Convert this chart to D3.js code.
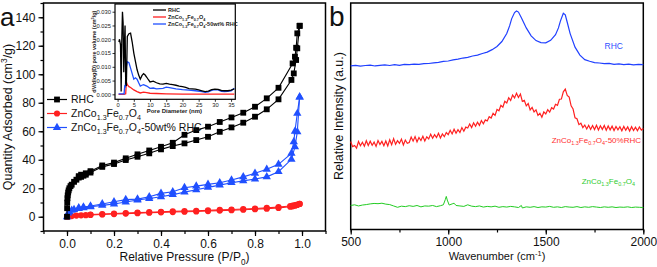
<!DOCTYPE html>
<html><head><meta charset="utf-8">
<script src="https://cdn.jsdelivr.net/npm/d3@7"></script>
<style>body{margin:0;background:#fff}svg{display:block;font-family:"Liberation Sans",Arial,sans-serif}</style>
</head><body><svg id="c" width="657" height="267"></svg>
<script>
// ---------- Panel a: N2 isotherms ----------
const pRHCads = [0,0.0005,0.001,0.002,0.003,0.005,0.007,0.01,0.015,0.02,0.03,0.04,0.05,0.06,0.07,0.08,0.1,0.15,0.2,0.25,0.3,0.35,0.4,0.45,0.5,0.55,0.6,0.65,0.7,0.75,0.8,0.85,0.9,0.955,0.965,0.975,0.98,0.99];
const qRHCads = [0,6,10,13,15,17,18.5,20,21.5,22.5,24.5,26,27.5,28,28.8,29.5,31,35,37,39.8,42.1,44.5,47.3,49.6,51.5,53.8,56.1,59.6,62.7,66,70.2,75.4,82.4,96,100.6,110,118.2,134];
const pRHCdes = [0.99,0.98,0.975,0.97,0.96,0.9,0.85,0.8,0.75,0.7,0.65,0.6,0.55,0.5,0.45,0.4,0.35,0.3,0.25,0.2,0.15,0.1,0.08,0.06,0.05];
const qRHCdes = [134,128.7,118.6,112.3,107.6,90.5,83.1,77.2,73,69.7,66.5,63.2,60.8,57.5,51.9,49.1,46.5,43.8,41,38,36,32,30.5,29.5,28.5];
const pZCFads = [0,0.01,0.02,0.04,0.06,0.08,0.1,0.15,0.2,0.25,0.3,0.35,0.4,0.45,0.5,0.55,0.6,0.65,0.7,0.75,0.8,0.85,0.9,0.95,0.96,0.97,0.98,0.99];
const qZCFads = [0,0.3,0.5,0.8,1.0,1.1,1.3,1.6,1.9,2.2,2.5,2.8,3.1,3.3,3.5,3.7,4.0,4.3,4.6,4.9,5.3,5.7,6.2,7.0,7.3,7.7,8.3,9.0];
const pZCFdes = [0.99,0.98,0.97,0.96,0.95,0.9,0.85,0.8,0.75,0.7,0.65,0.6,0.55,0.5,0.45,0.4,0.35,0.3,0.25,0.2,0.15,0.1];
const qZCFdes = [9.0,8.6,8.1,7.8,7.5,6.8,6.2,5.8,5.4,5.1,4.8,4.5,4.2,4.0,3.8,3.5,3.2,2.9,2.6,2.3,1.9,1.6];
const pMixads = [0,0.005,0.01,0.02,0.03,0.05,0.07,0.1,0.15,0.2,0.25,0.3,0.35,0.4,0.45,0.5,0.55,0.6,0.65,0.7,0.75,0.8,0.85,0.9,0.955,0.97,0.98,0.99];
const qMixads = [0,2.5,3.5,4.5,5.0,5.7,6.2,7.0,8.0,8.9,10.3,11.7,12.8,14.0,15.5,17.3,18.9,20.6,22.2,23.9,25.2,26.5,28.0,31.6,40.3,49,59.6,84];
const pMixdes = [0.99,0.98,0.97,0.965,0.955,0.9,0.85,0.8,0.75,0.7,0.65,0.6,0.55,0.5,0.45,0.4,0.35,0.3,0.25,0.2,0.15,0.1,0.07,0.05];
const qMixdes = [84,72.5,60,52.6,44.5,36.8,33.3,30.5,28,25.8,23.9,22.7,21.5,20.4,17.5,16.4,14,12.4,12,10.5,9,7.5,6.8,6.2];
const xTicksA = [0,0.2,0.4,0.6,0.8,1.0];
const yTicksA = [0,20,40,60,80,100,120,140];

// ---------- Inset: pore size distribution ----------
const dRHC = [0.4,0.6,0.9,1.1,1.3,1.5,1.7,1.9,2.1,2.3,2.5,2.7,3.0,3.5,4.0,4.5,5.0,5.5,6.0,6.5,7.0,7.5,8.0,8.5,9.0,9.5,10,11,12,13,14,15,16,17,18,19,20,21,22,23,24,25,26,27,28,29,30,31,32,33,34,35,36];
const vRHC = [0.019,0.020,0.018,0.001,0.020,0.030,0.026,0.008,0.018,0.025,0.004,0.003,0.021,0.022,0.0222,0.019,0.015,0.012,0.009,0.007,0.0055,0.0068,0.0075,0.007,0.0062,0.0053,0.0045,0.0048,0.0042,0.0038,0.0037,0.0040,0.0037,0.0035,0.0033,0.0030,0.0028,0.0025,0.0021,0.0020,0.0019,0.0016,0.0013,0.0010,0.0012,0.0017,0.0019,0.0018,0.0014,0.0013,0.0013,0.0015,0.0020];
const dZCF = [0.3,1,2,2.5,2.7,3.0,3.5,4.0,5.0,6.0,7.0,8.0,9.0,10,12,15,20,25,30,36];
const vZCF = [0,0,0,0.0002,0.0045,0.0035,0.0028,0.0025,0.0016,0.001,0.0005,0.0008,0.0006,0.0004,0.0003,0.0002,0.0001,0.0001,0.0001,0.0001];
const dMix = [0.3,1,2,2.2,2.4,2.6,3.0,3.5,4.0,4.5,5.0,5.5,6.0,6.5,7.0,7.5,8,9,10,11,12,13,14,15,16,18,20,22,24,26,27,28,29,30,31,32,33,34,35,36];
const vMix = [0.0002,0.0002,0.0002,0.003,0.0028,0.0095,0.0118,0.0115,0.0095,0.0075,0.0055,0.006,0.0055,0.0042,0.003,0.0033,0.0035,0.003,0.0022,0.0023,0.002,0.0021,0.0022,0.0026,0.0024,0.002,0.0017,0.0015,0.0013,0.001,0.0007,0.0009,0.0014,0.0017,0.0016,0.0011,0.001,0.0011,0.0013,0.0022];
const xTicksIn = [0,5,10,15,20,25,30,35];
const yTicksIn = [0,0.005,0.010,0.015,0.020,0.025,0.030];

// ---------- Panel b: Raman ----------
const wBlue = [500,525,550,575,600,625,650,675,700,725,750,775,800,825,850,875,900,925,950,975,1000,1025,1050,1075,1100,1125,1150,1175,1200,1225,1250,1275,1300,1315,1325,1340,1350,1360,1375,1400,1425,1450,1475,1500,1525,1550,1565,1575,1590,1600,1610,1625,1650,1675,1700,1725,1750,1775,1800,1825,1850,1875,1900,1925,1950,1975,2000];
const iBlue = [72.2,72.5,72.1,72.4,72.6,72.2,72.5,72.7,72.4,72.8,72.5,72.9,72.8,73.0,72.9,73.2,73.3,73.6,73.8,74.2,74.4,74.9,75.2,75.7,76.0,76.6,77.0,77.7,78.3,79.4,80.8,83.0,86.5,90.0,93.0,95.8,96.5,96.0,93.5,89.0,85.5,83.4,82.5,82.4,83.5,86.0,89.0,92.0,95.5,94.8,91.5,86.5,80.5,77.0,75.0,74.3,73.7,73.5,73.2,73.3,72.9,73.1,72.8,73.0,72.7,72.9,72.8];
const wRed = [500,510,520,530,540,550,560,570,580,590,600,610,620,630,640,650,660,670,680,690,700,710,720,730,740,750,760,770,780,790,800,810,820,830,840,850,860,870,880,890,900,910,920,930,940,950,960,970,980,990,1000,1010,1020,1030,1040,1050,1060,1070,1080,1090,1100,1110,1120,1130,1140,1150,1160,1170,1180,1190,1200,1210,1220,1230,1240,1250,1260,1270,1280,1290,1300,1310,1320,1330,1340,1350,1360,1370,1380,1390,1400,1410,1420,1430,1440,1450,1460,1470,1480,1490,1500,1510,1520,1530,1540,1550,1560,1570,1580,1590,1600,1610,1620,1630,1640,1650,1660,1670,1680,1690,1700,1710,1720,1730,1740,1750,1760,1770,1780,1790,1800,1810,1820,1830,1840,1850,1860,1870,1880,1890,1900,1910,1920,1930,1940,1950,1960,1970,1980,1990,2000];
const iRed = [38.8,36.6,37.1,35.9,38.9,37.0,38.5,36.8,39.2,37.1,
  39.0,37.2,38.6,36.7,39.3,37.5,38.9,37.0,39.1,36.9,
  39.6,37.4,40.1,37.6,39.2,38.0,39.9,37.3,39.5,38.1,
  38.4,40.8,39.0,41.0,38.7,40.6,39.3,41.2,39.1,40.9,
  40.0,42.1,40.3,41.9,40.6,42.5,40.4,42.2,41.0,42.8,
  41.9,43.8,42.2,44.3,42.5,44.1,42.8,45.0,43.4,45.2,
  44.8,46.6,45.0,47.1,45.6,47.4,46.0,48.1,46.7,48.4,
  47.9,49.8,49.2,51.3,50.4,53.0,52.4,54.8,54.0,56.6,
  55.9,58.2,57.0,59.4,58.1,60.2,58.3,59.8,56.6,57.0,
  54.6,55.6,52.8,53.9,51.9,52.8,50.4,51.3,49.6,51.9,
  51.0,52.9,51.8,53.8,53.2,55.3,54.8,57.5,57.6,60.8,
  62.0,59.2,58.5,54.6,53.2,49.3,48.9,46.3,46.9,45.0,
  46.1,44.4,46.0,44.2,45.9,44.1,46.0,43.9,45.8,44.2,
  45.9,43.8,45.7,44.0,45.6,43.7,45.5,44.0,45.4,43.6,
  45.5,43.8,45.3,43.5,45.4,43.7,45.2,43.6,45.3,43.9,
  44.6];
const wGreen = [500,520,540,560,580,600,620,640,660,680,700,720,740,760,780,800,820,840,860,880,900,920,940,960,975,985,990,995,1005,1020,1030,1040,1060,1080,1100,1120,1140,1160,1180,1200,1220,1240,1260,1280,1300,1320,1340,1360,1375,1380,1400,1420,1440,1460,1480,1500,1520,1540,1560,1580,1600,1620,1640,1660,1680,1700,1720,1740,1760,1780,1800,1820,1840,1860,1880,1900,1920,1940,1960,1980,2000];
const iGreen = [10.6,10.9,10.4,10.8,11.0,11.3,11.5,11.4,11.6,11.2,11.0,10.4,9.8,10.3,10.1,10.5,10.2,10.6,10.0,10.4,10.3,10.6,10.1,10.5,10.9,13.2,14.6,13.0,10.8,11.3,11.6,10.6,10.4,10.2,10.9,10.3,10.1,10.4,9.9,10.2,10.0,10.3,9.8,10.1,9.9,10.2,10.0,9.7,10.6,9.5,10.0,9.8,10.1,9.7,10.0,9.9,10.2,9.8,10.0,9.7,10.1,9.9,9.8,10.1,9.7,10.0,9.8,10.1,9.9,9.7,10.0,9.8,10.0,9.7,9.9,9.8,10.0,9.7,9.9,9.8,9.7];
const xTicksB = [500,1000,1500,2000];

const svg = d3.select("#c");
const FONT = '"Liberation Sans",Arial,sans-serif';

// rich text helper: parts = [[text, kind]] kind '', 'sub', 'sup'
function rich(g, parts, size) {
  let off = 0;
  parts.forEach(([t, k]) => {
    const target = k === 'sub' ? size*0.3 : k === 'sup' ? -size*0.38 : 0;
    g.append("tspan").attr("dy", target - off)
      .attr("font-size", k ? size*0.68 : size).text(t);
    off = target;
  });
}
const ZCF = [["ZnCo",""],["1.3","sub"],["Fe",""],["0.7","sub"],["O",""],["4","sub"]];

// ================= Panel a =================
const xA = d3.scaleLinear([-0.1, 1.1], [43.5, 325.5]);
const yA = d3.scaleLinear([-10, 150], [231, 3]);
const gA = svg.append("g");
gA.append("rect").attr("x", xA.range()[0]).attr("y", yA.range()[1])
  .attr("width", xA.range()[1]-xA.range()[0]).attr("height", yA.range()[0]-yA.range()[1])
  .attr("fill", "none").attr("stroke", "#000").attr("stroke-width", 1.5);

const axBA = gA.append("g").attr("transform", `translate(0,${yA.range()[0]})`)
  .call(d3.axisBottom(xA).tickValues(d3.range(-0.1, 1.11, 0.1)).tickSize(3).tickFormat(""));
const axBA2 = gA.append("g").attr("transform", `translate(0,${yA.range()[0]})`)
  .call(d3.axisBottom(xA).tickValues(xTicksA).tickSize(5).tickPadding(3).tickFormat(d3.format(".1f")));
const axLA = gA.append("g").attr("transform", `translate(${xA.range()[0]},0)`)
  .call(d3.axisLeft(yA).tickValues(d3.range(-10, 151, 10)).tickSize(3).tickFormat(""));
const axLA2 = gA.append("g").attr("transform", `translate(${xA.range()[0]},0)`)
  .call(d3.axisLeft(yA).tickValues(yTicksA).tickSize(5).tickPadding(3));
[axBA, axBA2, axLA, axLA2].forEach(a => {
  a.select(".domain").remove();
  a.selectAll("line").attr("stroke", "#000").attr("stroke-width", 1.2);
  a.selectAll("text").attr("font-family", FONT).attr("font-size", 12).attr("fill", "#111");
});

const lineA = d3.line().x(d => xA(d[0])).y(d => yA(d[1]));
const seriesA = [
  {p: pZCFads, q: qZCFads, c: "#ff2020", m: "circle"},
  {p: pZCFdes, q: qZCFdes, c: "#ff2020", m: "circle"},
  {p: pMixads, q: qMixads, c: "#2050ff", m: "tri"},
  {p: pMixdes, q: qMixdes, c: "#2050ff", m: "tri"},
  {p: pRHCads, q: qRHCads, c: "#000", m: "sq"},
  {p: pRHCdes, q: qRHCdes, c: "#000", m: "sq"}
];
const sym = {circle: d3.symbolCircle, tri: d3.symbolTriangle, sq: d3.symbolSquare};
const symSize = {circle: 30, tri: 30, sq: 34};
seriesA.forEach(s => {
  const pts = s.p.map((p, i) => [p, s.q[i]]);
  gA.append("path").attr("d", lineA(pts)).attr("fill", "none").attr("stroke", s.c).attr("stroke-width", 1.1);
  gA.selectAll(null).data(pts).enter().append("path")
    .attr("transform", d => `translate(${xA(d[0])},${yA(d[1])})`)
    .attr("d", d3.symbol(sym[s.m], symSize[s.m])).attr("fill", s.c);
});

// legend
const legA = [
  {c: "#000", m: "sq", t: [["RHC",""]], y: 99.5},
  {c: "#ff2020", m: "circle", t: ZCF, y: 113.5},
  {c: "#2050ff", m: "tri", t: ZCF.concat([["-50wt% RHC",""]]), y: 127.5}
];
legA.forEach(l => {
  gA.append("line").attr("x1", 47).attr("x2", 67).attr("y1", l.y).attr("y2", l.y).attr("stroke", l.c).attr("stroke-width", 1.2);
  gA.append("path").attr("transform", `translate(57,${l.y})`).attr("d", d3.symbol(sym[l.m], symSize[l.m])).attr("fill", l.c);
  const t = gA.append("text").attr("x", 71).attr("y", l.y + 3.8).attr("font-size", 10.5).attr("fill", "#111");
  rich(t, l.t, 10.5);
});

// axis titles
const tx = gA.append("text").attr("x", (xA(0)+xA(1))/2).attr("y", 261).attr("text-anchor", "middle").attr("font-size", 12).attr("fill", "#111");
rich(tx, [["Relative Pressure (P/P",""],["0","sub"],[")",""]], 12);
const ty = gA.append("text").attr("transform", `translate(12,${yA(70)}) rotate(-90)`).attr("text-anchor", "middle").attr("font-size", 12.5).attr("fill", "#111");
rich(ty, [["Quantity Adsorbed (cm",""],["3","sup"],["/g)",""]], 12.5);
gA.append("text").attr("x", 0).attr("y", 26).attr("font-size", 26).attr("fill", "#111").text("a");

// ================= Inset =================
const xI = d3.scaleLinear([-0.8, 36.3], [115, 235.3]);
const yI = d3.scaleLinear([-0.0018, 0.0328], [99.3, 4]);
const gI = svg.append("g");
gI.append("rect").attr("x", 115).attr("y", 4).attr("width", 120.3).attr("height", 95.3)
  .attr("fill", "#fff").attr("stroke", "#000").attr("stroke-width", 1.2);
const axBI = gI.append("g").attr("transform", `translate(0,${yI.range()[0]})`)
  .call(d3.axisBottom(xI).tickValues(xTicksIn).tickSize(2.5).tickPadding(1.5));
const axLI = gI.append("g").attr("transform", `translate(${xI.range()[0]},0)`)
  .call(d3.axisLeft(yI).tickValues(yTicksIn).tickSize(2.5).tickPadding(1.5).tickFormat(d3.format(".3f")));
[axBI, axLI].forEach(a => {
  a.select(".domain").remove();
  a.selectAll("line").attr("stroke", "#000").attr("stroke-width", 0.8);
  a.selectAll("text").attr("font-family", FONT).attr("font-size", 5.8).attr("fill", "#222");
});
const lineI = d3.line().x(d => xI(d[0])).y(d => yI(d[1]));
[[dZCF, vZCF, "#ff2020"], [dMix, vMix, "#2050ff"], [dRHC, vRHC, "#000"]].forEach(([d, v, c]) => {
  gI.append("path").attr("d", lineI(d.map((x, i) => [x, v[i]]))).attr("fill", "none").attr("stroke", c).attr("stroke-width", 1.3);
});
const legI = [
  {c: "#000", t: [["RHC",""]], y: 10},
  {c: "#ff2020", t: ZCF, y: 17},
  {c: "#2050ff", t: ZCF.concat([["-50wt% RHC",""]]), y: 24}
];
legI.forEach(l => {
  gI.append("line").attr("x1", 153).attr("x2", 166).attr("y1", l.y).attr("y2", l.y).attr("stroke", l.c).attr("stroke-width", 1.3);
  const t = gI.append("text").attr("x", 168).attr("y", l.y + 2).attr("font-size", 5.5).attr("font-weight", "bold").attr("fill", "#222");
  rich(t, l.t, 5.5);
});
gI.append("text").attr("x", (xI(0)+xI(35))/2).attr("y", 113).attr("text-anchor", "middle").attr("font-size", 6).attr("font-weight", "bold").attr("fill", "#222").text("Pore Diameter (nm)");
const tyI = gI.append("text").attr("transform", `translate(96,${(4+99.3)/2}) rotate(-90)`).attr("text-anchor", "middle").attr("font-size", 5.5).attr("font-weight", "bold").attr("fill", "#222");
rich(tyI, [["dV/dlog(D) pore volume (cm",""],["3","sup"],["/g)",""]], 5.5);

// ================= Panel b =================
const xB = d3.scaleLinear([500, 2000], [350.7, 643.3]);
const yB = d3.scaleLinear([0, 100], [229.5, 3]);
const gB = svg.append("g");
gB.append("rect").attr("x", 350.7).attr("y", 3).attr("width", 292.6).attr("height", 226.5)
  .attr("fill", "none").attr("stroke", "#000").attr("stroke-width", 1.5);
const axBB = gB.append("g").attr("transform", `translate(0,${yB.range()[0]})`)
  .call(d3.axisBottom(xB).tickValues(d3.range(500, 2001, 250)).tickSize(3).tickFormat(""));
const axBB2 = gB.append("g").attr("transform", `translate(0,${yB.range()[0]})`)
  .call(d3.axisBottom(xB).tickValues(xTicksB).tickSize(5).tickPadding(3).tickFormat(d3.format("d")));
[axBB, axBB2].forEach(a => {
  a.select(".domain").remove();
  a.selectAll("line").attr("stroke", "#000").attr("stroke-width", 1.2);
  a.selectAll("text").attr("font-family", FONT).attr("font-size", 12).attr("fill", "#111");
});
const lineB = d3.line().x(d => xB(d[0])).y(d => yB(d[1]));
[[wGreen, iGreen, "#22cc22", 1], [wRed, iRed, "#ff2020", 1.2], [wBlue, iBlue, "#2040ff", 1.2]].forEach(([w, v, c, sw]) => {
  gB.append("path").attr("d", lineB(w.map((x, i) => [x, v[i]]))).attr("fill", "none").attr("stroke", c).attr("stroke-width", sw);
});
gB.append("text").attr("x", 623).attr("y", 48.5).attr("text-anchor", "end").attr("font-size", 8.5).attr("fill", "#3050ff").text("RHC");
const tr = gB.append("text").attr("x", 641).attr("y", 143).attr("text-anchor", "end").attr("font-size", 8).attr("fill", "#ff3030");
rich(tr, ZCF.concat([["-50%RHC",""]]), 8);
const tg = gB.append("text").attr("x", 635).attr("y", 184).attr("text-anchor", "end").attr("font-size", 8).attr("fill", "#30cc30");
rich(tg, ZCF, 8);
const txb = gB.append("text").attr("x", 497).attr("y", 260).attr("text-anchor", "middle").attr("font-size", 11).attr("fill", "#111");
rich(txb, [["Wavenumber (cm",""],["-1","sup"],[")",""]], 11);
gB.append("text").attr("transform", `translate(343,116) rotate(-90)`).attr("text-anchor", "middle").attr("font-size", 12.5).attr("fill", "#111").text("Relative Intensity (a.u.)");
gB.append("text").attr("x", 329).attr("y", 26).attr("font-size", 28).attr("fill", "#111").text("b");
</script></body></html>
